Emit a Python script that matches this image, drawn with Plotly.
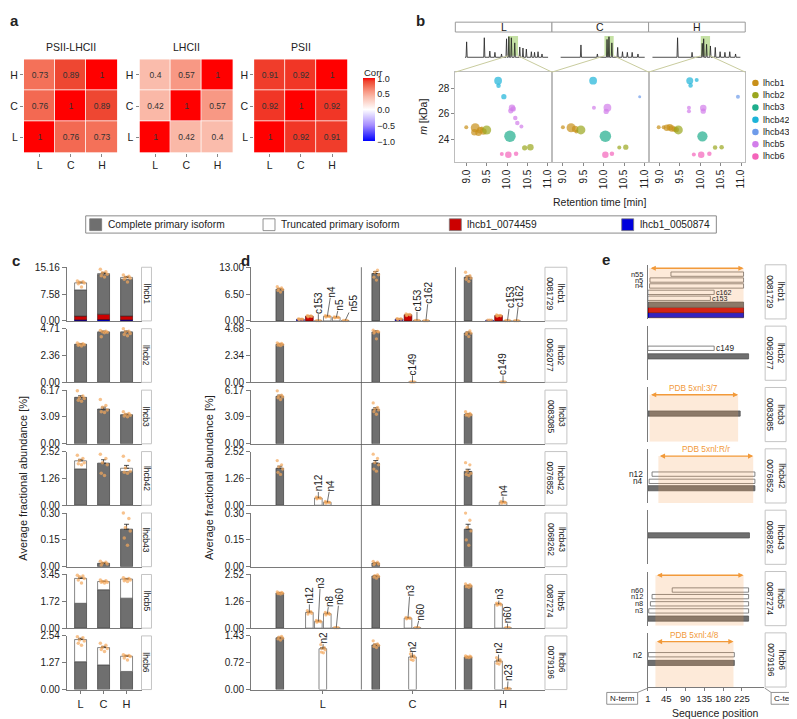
import numpy as np
import plotly.graph_objects as go

FONT = 'Liberation Sans, Arial, Helvetica, sans-serif'
W, H = 797, 719
TXT = '#222222'
AXC = '#7a7a7a'
ORANGE = '#F29A3A'
PT = 'rgba(244,168,92,0.7)'
GREY = '#6f6f6f'
RED = '#CC0000'
BLUE = '#0000DD'

CONDS = ['L', 'C', 'H']

# ---------------- panel a data ----------------
CORR_TITLES = ['PSII-LHCII', 'LHCII', 'PSII']
CORR_PSII_LHCII = [[1, 0.76, 0.73], [0.76, 1, 0.89], [0.73, 0.89, 1]]
CORR_LHCII = [[1, 0.42, 0.4], [0.42, 1, 0.57], [0.4, 0.57, 1]]
CORR_PSII = [[1, 0.92, 0.91], [0.92, 1, 0.92], [0.91, 0.92, 1]]
CORR_TICKS = [-1, -0.5, 0, 0.5, 1]
CORR_TICKTEXT = ['−1.0', '−0.5', '0.0', '0.5', '1.0']

# ---------------- panel b data ----------------
B_PROTEINS = ['lhcb1', 'lhcb2', 'lhcb3', 'lhcb42', 'lhcb43', 'lhcb5', 'lhcb6']
B_COLORS = ['#C8901A', '#9AA61E', '#1EAD8C', '#1CB3D8', '#6E9BEA', '#D27DEA', '#F464BA']

PROT_L = ['lhcb1'] * 7 + ['lhcb2'] * 3 + ['lhcb3'] + ['lhcb42'] * 3 + ['lhcb5'] * 6 + ['lhcb6'] * 3
RT_L = [9.0, 9.22, 9.2, 9.3, 9.34, 9.42, 9.38, 9.5, 10.43, 10.57, 10.07, 9.78, 9.79, 9.92,
        10.12, 10.09, 10.15, 10.2, 10.25, 10.35, 9.87, 10.03, 10.22]
MASS_L = [24.95, 24.9, 24.55, 24.5, 24.7, 24.6, 24.85, 24.72, 23.3, 23.35, 24.22, 28.65, 28.25, 27.37,
          26.5, 26.25, 26.4, 25.67, 25.28, 25.0, 22.81, 22.76, 22.84]
ABUND_L = [1, 3, 2, 2, 2, 2, 1, 3, 1.5, 2, 4, 2.5, 1.2, 1.5, 2, 1.5, 1.5, 1.2, 1.2, 1, 1, 2, 1.2]

PROT_C = ['lhcb1'] * 4 + ['lhcb2', 'lhcb42', 'lhcb5', 'lhcb5', 'lhcb5', 'lhcb3', 'lhcb6', 'lhcb6',
                         'lhcb2', 'lhcb2', 'lhcb43']
RT_C = [9.0, 9.2, 9.3, 9.33, 9.44, 9.74, 9.76, 10.09, 10.06, 10.04, 10.04, 10.2, 10.38, 10.54, 10.88]
MASS_C = [24.95, 24.9, 24.8, 24.6, 24.73, 28.65, 26.5, 26.5, 26.2, 24.22, 22.76, 22.84, 23.32, 23.35, 27.37]
ABUND_C = [1, 3, 2, 1, 3, 2.5, 1, 2.5, 1.5, 4, 2, 1.2, 1, 1.5, 0.6]

PROT_H = ['lhcb1'] * 7 + ['lhcb2'] + ['lhcb42'] * 3 + ['lhcb5'] * 4 + ['lhcb3'] + ['lhcb6'] * 3 + \
         ['lhcb2', 'lhcb2', 'lhcb43']
RT_H = [8.98, 9.1, 9.18, 9.25, 9.3, 9.36, 9.41, 9.46, 9.74, 9.76, 9.91, 9.72, 9.72, 10.07, 10.07,
        10.05, 9.84, 10.02, 10.22, 10.36, 10.52, 10.92]
MASS_H = [24.95, 24.95, 24.9, 24.95, 24.85, 24.8, 24.75, 24.73, 28.65, 28.27, 28.7, 26.5, 26.22, 26.48,
          26.22, 24.22, 22.78, 22.76, 22.84, 23.32, 23.35, 27.37]
ABUND_H = [1, 1, 2, 2, 2, 1.5, 1.5, 3, 2.2, 1.2, 1, 1, 1, 2, 1.5, 3.5, 1, 2, 1.2, 1.2, 1.2, 1]

B_TICKS = [9.0, 9.5, 10.0, 10.5, 11.0]
B_TICKTEXT = ['9.0', '9.5', '10.0', '10.5', '11.0']
B_YTICKS = [24, 26, 28]

# chromatogram peaks (relative retention position, relative intensity)
CHROM_L_X = [0.117, 0.30, 0.357, 0.41, 0.478, 0.53, 0.554, 0.58, 0.615, 0.667, 0.70, 0.735, 0.787, 0.82, 0.856, 0.897]
CHROM_L_H = [0.75, 0.95, 0.3, 0.24, 0.16, 0.9, 1.0, 0.95, 0.7, 0.5, 0.45, 0.4, 0.27, 0.24, 0.27, 0.16]
CHROM_C_X = [0.30, 0.47, 0.57, 0.59, 0.62, 0.68, 0.73, 0.78, 0.83, 0.89]
CHROM_C_H = [0.6, 0.16, 0.87, 1.0, 0.7, 0.48, 0.27, 0.24, 0.24, 0.16]
CHROM_H_X = [0.30, 0.45, 0.555, 0.57, 0.60, 0.64, 0.69, 0.74, 0.79, 0.84, 0.90]
CHROM_H_H = [0.95, 0.24, 0.68, 0.9, 0.63, 0.55, 0.48, 0.27, 0.24, 0.27, 0.16]
CHROM_START = [0.10, 0.09, 0.04]
CHROM_END = [0.96, 0.96, 0.95]
CHROM_WINDOW = [(0.546, 0.649), (0.543, 0.639), (0.54, 0.636)]

# ---------------- panels c, d, e data ----------------
ROWS = ['lhcb1', 'lhcb2', 'lhcb3', 'lhcb42', 'lhcb43', 'lhcb5', 'lhcb6']
ROW_IDS = ['0081729', '0062077', '0083085', '0076852', '0068262', '0087274', '0079196']

C_TICKTEXT = [['0.00', '7.58', '15.16'], ['0.00', '2.36', '4.71'], ['0.00', '3.09', '6.17'],
              ['0.00', '1.26', '2.52'], ['0.00', '0.15', '0.30'], ['0.00', '1.72', '3.45'],
              ['0.00', '1.27', '2.54']]
D_TICKTEXT = [['0.00', '6.50', '13.00'], ['0.00', '2.34', '4.68'], ['0.00', '3.09', '6.17'],
              ['0.00', '1.26', '2.52'], ['0.00', '0.15', '0.30'], ['0.00', '1.26', '2.52'],
              ['0.00', '0.72', '1.43']]

# panel c: stacked segments per condition (L, C, H)
C_BLUE = {'lhcb1': [0.3, 0.4, 0.3]}
C_RED = {'lhcb1': [1.07, 1.5, 1.1]}
C_COMPLETE = {'lhcb1': [7.4, 11.2, 10.4], 'lhcb2': [3.35, 4.4, 4.4], 'lhcb3': [5.35, 4.0, 3.35],
              'lhcb42': [1.71, 1.98, 1.59], 'lhcb43': [0, 0.019, 0.21], 'lhcb5': [1.6, 2.47, 1.93],
              'lhcb6': [1.32, 1.17, 0.86]}
C_TRUNC = {'lhcb1': [2.0, 0.3, 0.5], 'lhcb2': [0, 0.03, 0.03], 'lhcb3': [0, 0, 0],
           'lhcb42': [0.38, 0, 0.15], 'lhcb43': [0, 0, 0], 'lhcb5': [1.6, 0.53, 1.23],
           'lhcb6': [1.05, 0.82, 0.72]}
C_REPS = {
    'lhcb1': [[11.3, 11.1, 10.9, 10.7, 10.5, 9.6], [14.6, 13.9, 13.6, 13.2, 12.8, 12.4], [13.0, 12.6, 12.3, 12.1, 11.8, 11.0]],
    'lhcb2': [[3.45, 3.4, 3.35, 3.3, 3.25, 3.2], [4.55, 4.5, 4.45, 4.4, 4.0, 4.35], [4.7, 4.5, 4.45, 4.3, 4.2, 4.1]],
    'lhcb3': [[6.1, 5.5, 5.3, 5.2, 5.0, 4.9], [5.1, 4.4, 4.2, 3.9, 3.7, 3.6], [3.7, 3.5, 3.4, 3.3, 3.2, 3.1]],
    'lhcb42': [[2.35, 2.2, 2.1, 2.0, 1.95, 1.9], [2.4, 2.2, 2.0, 1.9, 1.5, 1.4], [2.3, 2.1, 1.75, 1.6, 1.55, 1.5]],
    'lhcb43': [[], [0.03, 0.025, 0.02, 0.015, 0.01], [0.3, 0.27, 0.22, 0.2, 0.16, 0.12]],
    'lhcb5': [[3.4, 3.35, 3.3, 3.2, 3.1, 2.9], [3.1, 3.05, 3.0, 2.95, 2.95, 2.9], [3.25, 3.2, 3.15, 3.1, 3.05, 3.0]],
    'lhcb6': [[2.5, 2.45, 2.35, 2.3, 2.2, 2.1], [2.2, 2.1, 2.0, 1.95, 1.9, 1.8], [1.65, 1.62, 1.6, 1.57, 1.5, 1.4]],
}

# panel d: complete isoform per condition, then other isoforms per condition
D_COMPLETE = {'lhcb1': [7.7, 11.5, 10.6], 'lhcb2': [3.32, 4.4, 4.31], 'lhcb3': [5.47, 3.97, 3.4],
              'lhcb42': [1.74, 1.98, 1.59], 'lhcb43': [0, 0.02, 0.21], 'lhcb5': [1.65, 2.45, 2.0],
              'lhcb6': [1.38, 1.19, 0.87]}
D_COMPLETE_REPS = {
    'lhcb1': [[8.3, 8.0, 7.8, 7.6, 7.4, 7.0], [13.2, 12.3, 11.8, 11.2, 10.6, 9.9], [11.8, 11.0, 10.7, 10.4, 10.1, 9.6]],
    'lhcb2': [[3.45, 3.4, 3.35, 3.3, 3.25, 3.2], [4.55, 4.45, 4.42, 4.4, 4.3, 3.8], [4.7, 4.5, 4.35, 4.3, 4.2, 4.0]],
    'lhcb3': [[6.1, 5.6, 5.5, 5.4, 5.3, 5.1], [4.7, 4.2, 4.0, 3.9, 3.7, 3.4], [3.7, 3.5, 3.4, 3.35, 3.3, 3.2]],
    'lhcb42': [[2.1, 1.9, 1.8, 1.7, 1.55, 1.45], [2.4, 2.2, 2.0, 1.9, 1.7, 1.6], [2.0, 1.9, 1.6, 1.5, 1.45, 1.4]],
    'lhcb43': [[], [0.03, 0.025, 0.02, 0.015, 0.012], [0.3, 0.26, 0.22, 0.2, 0.15, 0.12]],
    'lhcb5': [[1.7, 1.68, 1.66, 1.64, 1.62, 1.6], [2.55, 2.5, 2.47, 2.43, 2.4, 2.35], [2.08, 2.04, 2.0, 1.98, 1.95, 1.92]],
    'lhcb6': [[1.45, 1.42, 1.4, 1.37, 1.35, 1.32], [1.3, 1.22, 1.2, 1.18, 1.15, 1.12], [0.9, 0.89, 0.88, 0.87, 0.86, 0.85]],
}
D_OTHER_NAMES = {
    'lhcb1': [['lhcb1_0050874', 'lhcb1_0074459', 'c153', 'n4', 'n5', 'n55'],
              ['lhcb1_0050874', 'lhcb1_0074459', 'c153', 'c162'],
              ['lhcb1_0050874', 'lhcb1_0074459', 'c153', 'c162']],
    'lhcb2': [[], ['c149'], ['c149']],
    'lhcb3': [[], [], []],
    'lhcb42': [['n12', 'n4'], [], ['n4']],
    'lhcb43': [[], [], []],
    'lhcb5': [['n12', 'n3', 'n8', 'n60'], ['n3', 'n60'], ['n3', 'n60']],
    'lhcb6': [['n2'], ['n2'], ['n2', 'n23']],
}
D_OTHER_VALUES = {
    'lhcb1': [[0.4, 1.15, 0.06, 1.1, 0.85, 0.1], [0.45, 1.5, 0.12, 0.05], [0.18, 1.3, 0.1, 0.05]],
    'lhcb2': [[], [0.04], [0.04]],
    'lhcb3': [[], [], []],
    'lhcb42': [[0.34, 0.14], [], [0.14]],
    'lhcb43': [[], [], []],
    'lhcb5': [[0.74, 0.32, 0.68, 0.02], [0.47, 0.02], [1.13, 0.02]],
    'lhcb6': [[1.09], [0.87], [0.76, 0.03]],
}
D_OTHER_REPS = {
    'lhcb1|L|lhcb1_0050874': [0.5, 0.45, 0.4, 0.35, 0.3],
    'lhcb1|L|lhcb1_0074459': [1.3, 1.2, 1.15, 1.1, 1.0],
    'lhcb1|L|n4': [1.25, 1.15, 1.1, 1.05, 0.95],
    'lhcb1|L|n5': [0.95, 0.9, 0.85, 0.8, 0.75],
    'lhcb1|C|lhcb1_0050874': [0.55, 0.5, 0.45, 0.4, 0.35],
    'lhcb1|C|lhcb1_0074459': [1.7, 1.6, 1.5, 1.45, 1.3],
    'lhcb1|H|lhcb1_0074459': [1.45, 1.35, 1.3, 1.25, 1.15],
    'lhcb42|L|n12': [0.38, 0.36, 0.34, 0.32, 0.3],
    'lhcb42|L|n4': [0.18, 0.15, 0.14, 0.12, 0.1],
    'lhcb42|H|n4': [0.18, 0.15, 0.14, 0.12, 0.1],
    'lhcb5|L|n12': [0.82, 0.78, 0.74, 0.7, 0.66],
    'lhcb5|L|n3': [0.36, 0.34, 0.32, 0.3, 0.28],
    'lhcb5|L|n8': [0.74, 0.7, 0.68, 0.65, 0.62],
    'lhcb5|C|n3': [0.5, 0.48, 0.47, 0.46, 0.44],
    'lhcb5|H|n3': [1.18, 1.15, 1.13, 1.1, 1.08],
    'lhcb6|L|n2': [1.2, 1.12, 1.1, 1.06, 1.0, 0.98],
    'lhcb6|C|n2': [0.95, 0.9, 0.88, 0.85, 0.8, 0.78],
    'lhcb6|H|n2': [0.85, 0.8, 0.77, 0.74, 0.7, 0.68],
}

# panel e: isoform coverage along sequence
E_NAMES = {
    'lhcb1': ['lhcb1_0050874', 'lhcb1_0074459', 'complete', 'c153', 'c162', 'n4', 'n5', 'n55'],
    'lhcb2': ['complete', 'c149'],
    'lhcb3': ['complete'],
    'lhcb42': ['complete', 'n4', 'n12'],
    'lhcb43': ['complete'],
    'lhcb5': ['complete', 'n3', 'n8', 'n12', 'n60'],
    'lhcb6': ['complete', 'n2'],
}
E_START = {'lhcb1': [1, 1, 1, 1, 1, 5, 6, 56], 'lhcb2': [1, 1], 'lhcb3': [1], 'lhcb42': [1, 4, 11],
           'lhcb43': [1], 'lhcb5': [1, 3, 7, 11, 59], 'lhcb6': [1, 2]}
E_END = {'lhcb1': [229, 229, 229, 150, 159, 229, 229, 229], 'lhcb2': [241, 159], 'lhcb3': [221],
         'lhcb42': [256, 256, 256], 'lhcb43': [243], 'lhcb5': [241, 241, 241, 241, 241],
         'lhcb6': [207, 207]}
E_PDB_LABEL = {'lhcb1': 'PDB 5xnl:1/2/G/N/Y/g/n/y', 'lhcb3': 'PDB 5xnl:3/7', 'lhcb42': 'PDB 5xnl:R/r',
               'lhcb5': 'PDB 5xnl:S/s', 'lhcb6': 'PDB 5xnl:4/8'}
E_PDB_START = {'lhcb1': 4, 'lhcb3': 5, 'lhcb42': 26, 'lhcb5': 19, 'lhcb6': 19}
E_PDB_END = {'lhcb1': 229, 'lhcb3': 216, 'lhcb42': 252, 'lhcb5': 229, 'lhcb6': 205}
E_TICKS = [1, 45, 90, 135, 180, 225]

# ---------------- layout constants (pixels) ----------------
ROW_BOTTOM = [312.7 + 62.4 * i for i in range(7)]
ROW_H = 54.5
E_ROW_BOTTOM = [310.7 + 62.3 * i for i in range(7)]
E_ROW_H = 55.0
E_TRACK = {'lhcb1': [4, 9, 14.5, 21, 27, 33.5, 39.5, 45.5], 'lhcb2': [24.3, 32.5], 'lhcb3': [28.5],
           'lhcb42': [15, 22, 29.3], 'lhcb43': [29.4], 'lhcb5': [7.2, 15, 22.2, 29.5, 36.2],
           'lhcb6': [24.5, 32.8]}
E_PDB_Y = {'lhcb1': 51.5, 'lhcb3': 47.6, 'lhcb42': 47.6, 'lhcb5': 51.2, 'lhcb6': 46.2}
D_CENTER = [8.0, 18.0, 28.1]
D_COMPLETE_POS = [3.2, 13.9, 24.2]
D_SEPARATORS = [12.3, 22.8]
D_LABEL_OFF = {
    'lhcb1|L|c153': (0, -18), 'lhcb1|L|n4': (4, -25), 'lhcb1|L|n5': (3, -13), 'lhcb1|L|n55': (8, -17),
    'lhcb1|C|c153': (0, -20), 'lhcb1|C|c162': (3, -28), 'lhcb1|H|c153': (3, -23), 'lhcb1|H|c162': (3, -25),
    'lhcb2|C|c149': (0, -18), 'lhcb2|H|c149': (0, -18),
    'lhcb42|L|n12': (0, -15), 'lhcb42|L|n4': (3, -17), 'lhcb42|H|n4': (0, -12),
    'lhcb5|L|n12': (0, -17), 'lhcb5|L|n3': (2, -39), 'lhcb5|L|n8': (2, -13), 'lhcb5|L|n60': (3, -31),
    'lhcb5|C|n3': (2, -28), 'lhcb5|C|n60': (4, -16), 'lhcb5|H|n3': (1, -10), 'lhcb5|H|n60': (0, -13),
    'lhcb6|L|n2': (1, -11), 'lhcb6|C|n2': (0, -11), 'lhcb6|H|n2': (0, -13), 'lhcb6|H|n23': (1, -16),
}
JIT = [-0.14, 0.1, -0.05, 0.16, -0.1, 0.04, 0.12, -0.17]


def PX(x):
    return x / W


def PY(y):
    return 1 - y / H


fig = go.Figure()
layout = {}
shapes = []
annotations = []
axis_count = [0]


def new_axes(x0, x1, top, bottom, xcfg=None, ycfg=None):
    axis_count[0] += 1
    n = axis_count[0]
    s = '' if n == 1 else str(n)
    base = dict(showgrid=False, zeroline=False, showline=False, ticks='', showticklabels=False,
                fixedrange=True)
    xa = dict(base)
    xa.update(domain=[PX(x0), PX(x1)], anchor='y' + s)
    if xcfg:
        xa.update(xcfg)
    ya = dict(base)
    ya.update(domain=[PY(bottom), PY(top)], anchor='x' + s)
    if ycfg:
        ya.update(ycfg)
    layout['xaxis' + s] = xa
    layout['yaxis' + s] = ya
    return 'x' + s, 'y' + s


def text(x, y, t, size=10, color=TXT, angle=0, xanchor='center', yanchor='middle', bold=False):
    if bold:
        t = '<b>' + t + '</b>'
    annotations.append(dict(x=PX(x), y=PY(y), xref='paper', yref='paper', text=t, showarrow=False,
                            font=dict(size=size, color=color, family=FONT), textangle=angle,
                            xanchor=xanchor, yanchor=yanchor, borderpad=0))


def prect(x0, y0, x1, y1, line='#999', fill='white', lw=1, layer='above'):
    shapes.append(dict(type='rect', xref='paper', yref='paper', x0=PX(x0), x1=PX(x1), y0=PY(y1), y1=PY(y0),
                       line=dict(color=line, width=lw), fillcolor=fill, layer=layer))


def pline(x0, y0, x1, y1, color='#999', w=1):
    shapes.append(dict(type='line', xref='paper', yref='paper', x0=PX(x0), x1=PX(x1), y0=PY(y0), y1=PY(y1),
                       line=dict(color=color, width=w)))


def strip(x0, x1, top, bottom, t, size=8.5):
    prect(x0, top, x1, bottom, line='#c4c4c4', fill='white', lw=1)
    text((x0 + x1) / 2, (top + bottom) / 2, t, size=size, angle=90)


def se(vals):
    v = np.array(vals, dtype=float)
    if len(v) < 2:
        return 0.0
    return float(v.std(ddof=1) / np.sqrt(len(v)))


TICKFONT = dict(size=10, color=TXT, family=FONT)

# ================= panel a =================
CS = [[0.0, '#0000FF'], [0.25, '#A58CFF'], [0.5, '#FFFFFF'], [0.7, '#FABCAC'], [0.785, '#F89884'],
      [0.875, '#F36C54'], [0.95, '#EE4430'], [1.0, '#FF0000']]
heat_x = [(14, 108), (130, 224), (245, 339)]
mats = [CORR_PSII_LHCII, CORR_LHCII, CORR_PSII]
for i in range(3):
    x0, x1 = heat_x[i]
    xa, ya = new_axes(x0, x1, 47, 142,
                      xcfg=dict(type='category', showticklabels=True, ticks='outside', ticklen=3,
                                tickcolor='#888', tickfont=dict(size=10.5, color=TXT, family=FONT)),
                      ycfg=dict(type='category', showticklabels=True, ticks='outside', ticklen=3,
                                tickcolor='#888', tickfont=dict(size=10.5, color=TXT, family=FONT)))
    fig.add_trace(go.Heatmap(z=mats[i], x=CONDS, y=CONDS, zmin=-1, zmax=1, colorscale=CS,
                             xgap=0.8, ygap=0.8, texttemplate='%{z}',
                             textfont=dict(size=8.5, color='#333', family=FONT),
                             showscale=(i == 0),
                             colorbar=dict(x=PX(354), xanchor='left', y=PY(98.5), yanchor='middle',
                                           len=63, lenmode='pixels', thickness=12, thicknessmode='pixels',
                                           outlinewidth=0, xpad=0, ypad=0, tickvals=CORR_TICKS,
                                           ticktext=CORR_TICKTEXT, ticks='',
                                           tickfont=dict(size=9, color=TXT, family=FONT)),
                             xaxis=xa, yaxis=ya, hoverinfo='skip'))
    text((x0 + x1) / 2, 35, CORR_TITLES[i], size=10.5)
text(354, 60, 'Corr', size=9.5, xanchor='left')
text(5, 8, 'a', size=15, bold=True)

# ================= panel b =================
text(412, 8, 'b', size=15, bold=True)
PANEL_B = [(447, 544), (544, 641), (641, 738)]
chroms = [(CHROM_L_X, CHROM_L_H), (CHROM_C_X, CHROM_C_H), (CHROM_H_X, CHROM_H_H)]
bdata = [(PROT_L, RT_L, MASS_L, ABUND_L), (PROT_C, RT_C, MASS_C, ABUND_C), (PROT_H, RT_H, MASS_H, ABUND_H)]
for j in range(3):
    x0, x1 = PANEL_B[j]
    prect(x0, 9.3, x1, 19.3, line='#9a9a9a', fill='white', lw=1)
    text((x0 + x1) / 2, 14.5, CONDS[j], size=10.5)
    cxa, cya = new_axes(x0, x1, 22, 46, xcfg=dict(range=[0, 1]), ycfg=dict(range=[-0.05, 1.1]))
    px_, hs = chroms[j]
    X = [CHROM_START[j]]
    Y = [0]
    for p, h in zip(px_, hs):
        X += [p - 0.006, p, p + 0.006]
        Y += [0, h, 0]
    X.append(CHROM_END[j])
    Y.append(0)
    fig.add_trace(go.Scatter(x=X, y=Y, mode='lines', line=dict(color='#222', width=0.8),
                             xaxis=cxa, yaxis=cya, hoverinfo='skip'))
    w0, w1 = CHROM_WINDOW[j]
    shapes.append(dict(type='rect', xref=cxa, yref=cya, x0=w0, x1=w1, y0=0.07, y1=1.04,
                       fillcolor='rgba(150,200,90,0.55)', line=dict(width=0), layer='below'))
    hx0 = x0 + w0 * (x1 - x0)
    hx1 = x0 + w1 * (x1 - x0)
    pline(hx0, 43.5, x0, 60, color='#C9CC9E', w=1)
    pline(hx1, 43.5, x1, 60, color='#C9CC9E', w=1)
    ycfg = dict(range=[22.2, 29.33], showline=True, mirror=True, linecolor='#bdbdbd', linewidth=1)
    if j == 0:
        ycfg.update(tickvals=B_YTICKS, showticklabels=True, ticks='outside', ticklen=3, tickcolor='#888',
                    tickfont=TICKFONT)
    sxa, sya = new_axes(x0, x1, 60, 151,
                        xcfg=dict(range=[8.732, 11.098], showline=True, mirror=True, linecolor='#bdbdbd',
                                  linewidth=1, tickvals=B_TICKS, ticktext=B_TICKTEXT, showticklabels=True,
                                  ticks='outside', ticklen=3, tickcolor='#888', tickangle=-90,
                                  tickfont=TICKFONT),
                        ycfg=ycfg)
    prot, rt, mass, ab = bdata[j]
    for k, p in enumerate(B_PROTEINS):
        idx = [n for n, q in enumerate(prot) if q == p]
        if not idx:
            continue
        fig.add_trace(go.Scatter(x=[rt[n] for n in idx], y=[mass[n] for n in idx], mode='markers',
                                 marker=dict(color=B_COLORS[k], size=[1.5 + 2.5 * ab[n] for n in idx],
                                             line=dict(width=0)),
                                 xaxis=sxa, yaxis=sya, hoverinfo='skip'))
text(415, 105, '<i>m</i> [kDa]', size=10.5, angle=-90)
text(592, 192, 'Retention time [min]', size=10.5)
for k, p in enumerate(B_PROTEINS):
    cy = 71 + 12.45 * k
    shapes.append(dict(type='circle', xref='paper', yref='paper', x0=PX(745), x1=PX(751.5),
                       y0=PY(cy + 3.25), y1=PY(cy - 3.25), fillcolor=B_COLORS[k], line=dict(width=0)))
    text(755, cy, p, size=9, xanchor='left')

# ================= shared legend =================
prect(76, 206, 709, 223.5, line='#8a8a8a', fill='white', lw=1)
LEG = [(80, GREY, 'Complete primary isoform'), (254, 'white', 'Truncated primary isoform'),
       (441, RED, 'lhcb1_0074459'), (614, BLUE, 'lhcb1_0050874')]
for x, col, t in LEG:
    prect(x, 209, x + 12, 221, line='#777', fill=col, lw=0.8)
    text(x + 17, 215, t, size=10.2, xanchor='left')

text(6, 251, 'c', size=15, bold=True)
text(236, 251, 'd', size=15, bold=True)
text(598, 250, 'e', size=15, bold=True)

# ================= panel c =================
for i, row in enumerate(ROWS):
    bot = ROW_BOTTOM[i]
    top = bot - ROW_H
    last = (i == 6)
    tv = [float(t) for t in C_TICKTEXT[i]]
    xcfg = dict(range=[-0.6, 2.65], showline=True, linecolor=AXC, linewidth=0.8)
    if last:
        xcfg.update(tickvals=[0, 1, 2], ticktext=CONDS, showticklabels=True, ticks='outside', ticklen=4,
                    tickcolor=AXC, tickfont=dict(size=11, color=TXT, family=FONT))
    xa, ya = new_axes(57, 132, top, bot, xcfg=xcfg,
                      ycfg=dict(range=[0, tv[2] * 1.001], showline=True, linecolor=AXC, linewidth=0.8,
                                tickvals=tv, ticktext=C_TICKTEXT[i], showticklabels=True, ticks='outside',
                                ticklen=4, tickcolor=AXC, tickfont=TICKFONT))
    segs = [(C_BLUE.get(row, [0, 0, 0]), BLUE, '#00006a'), (C_RED.get(row, [0, 0, 0]), RED, '#5a0000'),
            (C_COMPLETE[row], GREY, '#3a3a3a'), (C_TRUNC[row], 'white', '#555')]
    base = [0.0, 0.0, 0.0]
    for vals, fill, lc in segs:
        xs = [c for c in range(3) if vals[c] > 0]
        if xs:
            fig.add_trace(go.Bar(x=xs, y=[vals[c] for c in xs], base=[base[c] for c in xs], width=0.52,
                                 marker=dict(color=fill, line=dict(color=lc, width=0.7)),
                                 xaxis=xa, yaxis=ya, hoverinfo='skip'))
        base = [b + v for b, v in zip(base, vals)]
    ex = [c for c in range(3) if base[c] > 0]
    fig.add_trace(go.Scatter(x=ex, y=[base[c] for c in ex], mode='markers',
                             marker=dict(size=1, color='rgba(0,0,0,0)'),
                             error_y=dict(type='data', symmetric=False,
                                          array=[se(C_REPS[row][c]) for c in ex], arrayminus=[0] * len(ex),
                                          color='#222', thickness=0.8, width=2.5),
                             xaxis=xa, yaxis=ya, hoverinfo='skip'))
    px_, py_ = [], []
    for c in range(3):
        for k, v in enumerate(C_REPS[row][c]):
            px_.append(c + JIT[k % len(JIT)])
            py_.append(v)
    fig.add_trace(go.Scatter(x=px_, y=py_, mode='markers', marker=dict(size=3.5, color=PT),
                             xaxis=xa, yaxis=ya, hoverinfo='skip', cliponaxis=False))
    strip(132, 142, top, bot, row, size=8.5)
text(13, 472, 'Average fractional abundance [%]', size=11, angle=-90)

# ================= panel d =================
D_X0, D_X1 = 242, 537
D_UNIT = 9.0
D_RANGE = [0, (D_X1 - D_X0) / D_UNIT]
for i, row in enumerate(ROWS):
    bot = ROW_BOTTOM[i]
    top = bot - ROW_H
    last = (i == 6)
    tv = [float(t) for t in D_TICKTEXT[i]]
    xcfg = dict(range=D_RANGE, showline=True, linecolor=AXC, linewidth=0.8)
    if last:
        xcfg.update(tickvals=D_CENTER, ticktext=CONDS, showticklabels=True, ticks='outside', ticklen=4,
                    tickcolor=AXC, tickfont=dict(size=11, color=TXT, family=FONT))
    xa, ya = new_axes(D_X0, D_X1, top, bot, xcfg=xcfg,
                      ycfg=dict(range=[0, tv[2] * 1.001], showline=True, linecolor=AXC, linewidth=0.8,
                                tickvals=tv, ticktext=D_TICKTEXT[i], showticklabels=True, ticks='outside',
                                ticklen=4, tickcolor=AXC, tickfont=TICKFONT))
    bars_x, bars_y, bars_fill, bars_line = [], [], [], []
    err_x, err_y, err_e = [], [], []
    pts_x, pts_y = [], []
    for c in range(3):
        v = D_COMPLETE[row][c]
        if v > 0:
            bars_x.append(D_COMPLETE_POS[c]); bars_y.append(v); bars_fill.append(GREY); bars_line.append('#3a3a3a')
            reps = D_COMPLETE_REPS[row][c]
            err_x.append(D_COMPLETE_POS[c]); err_y.append(v); err_e.append(se(reps))
            for k, r in enumerate(reps):
                pts_x.append(D_COMPLETE_POS[c] + 2.0 * JIT[k % len(JIT)]); pts_y.append(r)
        names = D_OTHER_NAMES[row][c]
        vals = D_OTHER_VALUES[row][c]
        n = len(names)
        for k, (nm, v) in enumerate(zip(names, vals)):
            xpos = D_CENTER[c] + (k - (n - 1) / 2.0)
            if nm == 'lhcb1_0050874':
                fill, lc = BLUE, '#00006a'
            elif nm == 'lhcb1_0074459':
                fill, lc = RED, '#5a0000'
            else:
                fill, lc = 'white', '#555'
            bars_x.append(xpos); bars_y.append(v); bars_fill.append(fill); bars_line.append(lc)
            key = row + '|' + CONDS[c] + '|' + nm
            if key in D_OTHER_REPS:
                reps = D_OTHER_REPS[key]
                err_x.append(xpos); err_y.append(v); err_e.append(se(reps))
                for kk, r in enumerate(reps):
                    pts_x.append(xpos + 1.6 * JIT[kk % len(JIT)]); pts_y.append(r)
            else:
                pts_x += [xpos - 0.2, xpos, xpos + 0.2]; pts_y += [v, v, v]
            if key in D_LABEL_OFF:
                dx, dy = D_LABEL_OFF[key]
                annotations.append(dict(x=xpos, y=v, xref=xa, yref=ya, text=nm, showarrow=True,
                                        arrowhead=0, arrowwidth=0.7, arrowcolor='#333', ax=dx, ay=dy,
                                        standoff=0, textangle=-90, borderpad=0,
                                        font=dict(size=10, color=TXT, family=FONT)))
    fig.add_trace(go.Bar(x=bars_x, y=bars_y, width=0.85,
                         marker=dict(color=bars_fill, line=dict(color=bars_line, width=0.7)),
                         xaxis=xa, yaxis=ya, hoverinfo='skip'))
    fig.add_trace(go.Scatter(x=err_x, y=err_y, mode='markers', marker=dict(size=1, color='rgba(0,0,0,0)'),
                             error_y=dict(type='data', symmetric=False, array=err_e,
                                          arrayminus=[0] * len(err_e), color='#222', thickness=0.8,
                                          width=2.5),
                             xaxis=xa, yaxis=ya, hoverinfo='skip'))
    fig.add_trace(go.Scatter(x=pts_x, y=pts_y, mode='markers', marker=dict(size=3.3, color=PT),
                             xaxis=xa, yaxis=ya, hoverinfo='skip', cliponaxis=False))
    strip(537, 559, top, bot, row + '<br>' + ROW_IDS[i], size=8.5)
for s in D_SEPARATORS:
    xs = D_X0 + s * D_UNIT
    pline(xs, ROW_BOTTOM[0] - ROW_H, xs, ROW_BOTTOM[6], color='#555', w=0.8)
text(200, 472, 'Average fractional abundance [%]', size=11, angle=-90)

# ================= panel e =================
E_X0, E_X1 = 640, 757
E_PPU = 0.4213
E_RANGE = [0.34, 0.34 + (E_X1 - E_X0) / E_PPU]
for i, row in enumerate(ROWS):
    bot = E_ROW_BOTTOM[i]
    top = bot - E_ROW_H
    last = (i == 6)
    xcfg = dict(range=E_RANGE)
    if last:
        xcfg.update(showline=True, linecolor=AXC, linewidth=0.8, tickvals=E_TICKS, showticklabels=True,
                    ticks='outside', ticklen=3, tickcolor=AXC, tickangle=0,
                    tickfont=dict(size=9.5, color=TXT, family=FONT))
    xa, ya = new_axes(E_X0, E_X1, top, bot, xcfg=xcfg,
                      ycfg=dict(range=[0, E_ROW_H], showline=True, linecolor=AXC, linewidth=0.8))
    dense = len(E_NAMES[row]) > 3
    for k, nm in enumerate(E_NAMES[row]):
        s0 = E_START[row][k]
        s1 = E_END[row][k]
        yk = E_TRACK[row][k]
        if nm == 'complete':
            fill, lc, hgt = GREY, '#555', 5.2
        elif nm == 'lhcb1_0074459':
            fill, lc, hgt = RED, '#700', 5.2
        elif nm == 'lhcb1_0050874':
            fill, lc, hgt = BLUE, '#006', 5.2
        else:
            fill, lc, hgt = 'white', '#666', 4.4
        fig.add_trace(go.Bar(y=[yk], x=[s1 - s0], base=[s0], orientation='h', width=hgt,
                             marker=dict(color=fill, line=dict(color=lc, width=0.8)),
                             xaxis=xa, yaxis=ya, hoverinfo='skip'))
        if nm in ('complete', 'lhcb1_0074459', 'lhcb1_0050874'):
            continue
        if nm.startswith('n'):
            annotations.append(dict(x=PX(636), xref='paper', y=yk, yref=ya, text=nm, showarrow=False,
                                    xanchor='right', yanchor='middle', borderpad=0,
                                    font=dict(size=7.4 if dense else 8.3, color=TXT, family=FONT)))
        else:
            annotations.append(dict(x=s1, xref=xa, y=yk, yref=ya, text=nm, showarrow=False,
                                    xanchor='left', yanchor='middle', xshift=1, borderpad=0,
                                    font=dict(size=7.2 if dense else 8.3, color=TXT, family=FONT)))
    if row in E_PDB_LABEL:
        a0, a1 = E_PDB_START[row], E_PDB_END[row]
        yy = E_PDB_Y[row]
        shapes.append(dict(type='rect', xref=xa, yref=ya, x0=a0, x1=a1, y0=0, y1=yy,
                           fillcolor='rgba(245,160,80,0.22)', line=dict(width=0), layer='above'))
        annotations.append(dict(x=a1, y=yy, xref=xa, yref=ya, ax=a0, ay=yy, axref=xa, ayref=ya, text='',
                                showarrow=True, arrowhead=2, arrowside='end+start', arrowsize=0.8,
                                arrowwidth=1.3, arrowcolor=ORANGE, standoff=0, startstandoff=0))
        annotations.append(dict(x=(a0 + a1) / 2, y=yy + 7, xref=xa, yref=ya, text=E_PDB_LABEL[row],
                                showarrow=False, borderpad=0,
                                font=dict(size=8.3, color=ORANGE, family=FONT)))
    strip(758, 779, top, bot, row + '<br>' + ROW_IDS[i], size=8.5)

# N-term / C-term markers
prect(599, 690, 630, 702, line='#777', fill='white', lw=0.8)
text(614.5, 696, 'N-term', size=8)
pline(630, 690, 640.5, 685.5, color='#777', w=0.8)
prect(764, 690, 795, 702, line='#777', fill='white', lw=0.8)
text(779, 696, 'C-term', size=8)
pline(764, 690, 757.5, 685.5, color='#777', w=0.8)
text(708, 710.5, 'Sequence position', size=10.5)

fig.update_layout(width=W, height=H, margin=dict(l=0, r=0, t=0, b=0), paper_bgcolor='white',
                  plot_bgcolor='rgba(0,0,0,0)', showlegend=False, barmode='overlay',
                  font=dict(family=FONT, size=10, color=TXT), shapes=shapes, annotations=annotations,
                  **layout)
fig.write_html('out.html')
